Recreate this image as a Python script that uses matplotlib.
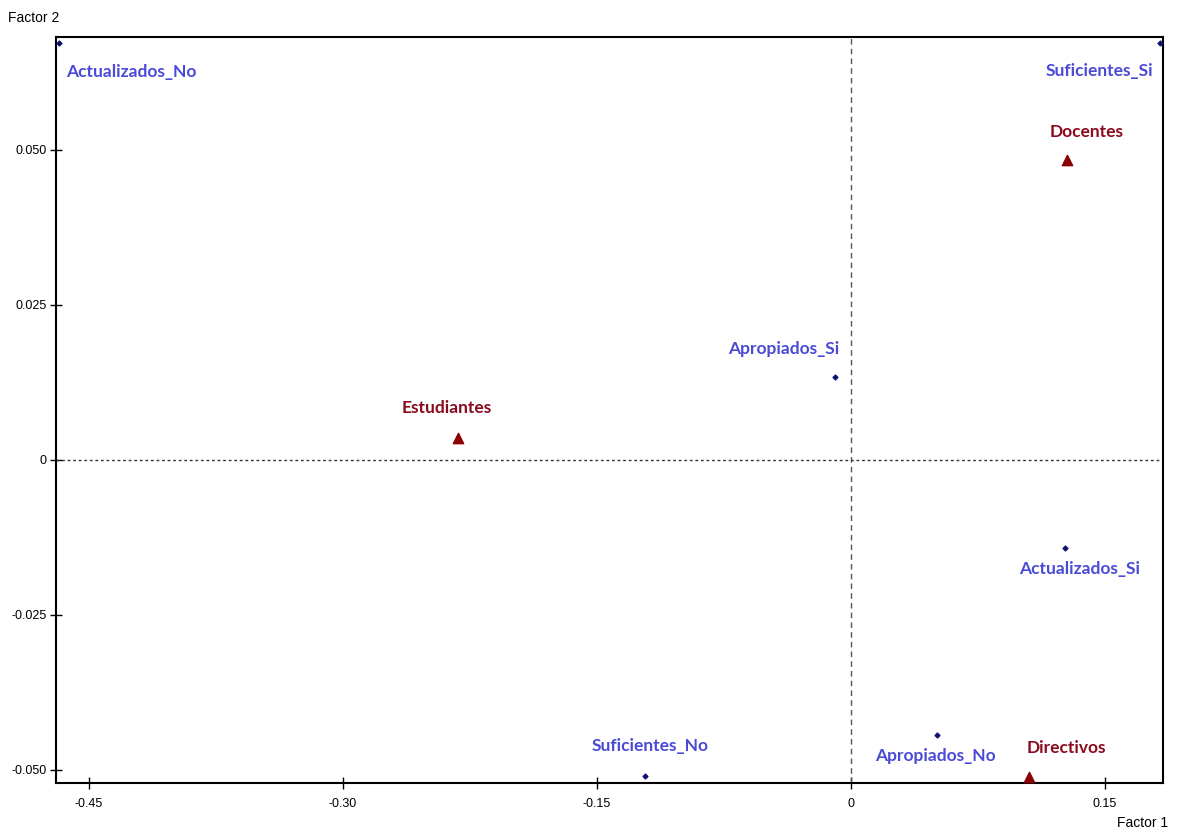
import matplotlib
matplotlib.use('Agg')
import matplotlib.pyplot as plt

# Column categories (blue points)
col_names = ['Actualizados_No', 'Suficientes_Si', 'Apropiados_Si', 'Actualizados_Si',
             'Suficientes_No', 'Apropiados_No']
col_x = [-0.468, 0.1825, -0.0095, 0.1264, -0.1217, 0.0508]
col_y = [0.0673, 0.0673, 0.0134, -0.0142, -0.0510, -0.0444]

# Row categories (red triangles)
row_names = ['Docentes', 'Estudiantes', 'Directivos']
row_x = [0.1276, -0.232, 0.1051]
row_y = [0.0484, 0.0035, -0.0511]

xticks = [-0.45, -0.30, -0.15, 0, 0.15]
xticklabels = ['-0.45', '-0.30', '-0.15', '0', '0.15']
yticks = [-0.050, -0.025, 0, 0.025, 0.050]
yticklabels = ['-0.050', '-0.025', '0', '0.025', '0.050']

# label offsets in pixels (dx, dy, ha)
col_off = [(8, -29, 'left'), (-7, -28, 'right'), (4, 28, 'right'),
           (15, -21, 'center'), (5, 30, 'center'), (-2, -21, 'center')]
row_off = [(20, 28, 'center'), (-11, 30, 'center'), (37, 29, 'center')]

blue = '#4a4ad6'
red = '#8a0a1e'
lab_font = ['Lato', 'DejaVu Sans']
tick_font = ['Liberation Sans Narrow', 'Liberation Sans', 'DejaVu Sans']

fig = plt.figure(figsize=(11.82, 8.33), dpi=100)
ax = fig.add_axes([56/1182, 1 - 783/833, (1163-56)/1182, (783-37)/833])

ax.axvline(0, color='#555555', lw=1, ls=(0, (4, 3)))
ax.axhline(0, color='#333333', lw=1, ls=(0, (2, 2)))

ax.scatter(col_x, col_y, marker='D', s=6, color='#101070', zorder=3)
ax.scatter(row_x, row_y, marker='^', s=55, color='#8b0000', zorder=3)

for name, x, y, (dx, dy, ha) in zip(col_names, col_x, col_y, col_off):
    ax.annotate(name, (x, y), xytext=(dx, dy), textcoords='offset pixels',
                ha=ha, va='center', color=blue, fontsize=12.5, fontweight='bold',
                family=lab_font)
for name, x, y, (dx, dy, ha) in zip(row_names, row_x, row_y, row_off):
    ax.annotate(name, (x, y), xytext=(dx, dy), textcoords='offset pixels',
                ha=ha, va='center', color=red, fontsize=12.5, fontweight='bold',
                family=lab_font)

ax.set_xlim(-0.4695, 0.1843)
ax.set_ylim(-0.0521, 0.0682)
ax.set_xticks(xticks)
ax.set_xticklabels(xticklabels)
ax.set_yticks(yticks)
ax.set_yticklabels(yticklabels)
ax.tick_params(direction='inout', length=8, width=1, labelsize=9)
ax.tick_params(axis='x', pad=7)
ax.tick_params(axis='y', pad=3)
for lab in ax.get_xticklabels() + ax.get_yticklabels():
    lab.set_family(tick_font)
for s in ax.spines.values():
    s.set_linewidth(1.5)

fig.text(8/1182, 1 - 18/833, 'Factor 2', fontsize=10, va='center', ha='left', family=tick_font)
fig.text(1168/1182, 1 - 823/833, 'Factor 1', fontsize=10, va='center', ha='right', family=tick_font)

fig.savefig('out.png', dpi=100)
